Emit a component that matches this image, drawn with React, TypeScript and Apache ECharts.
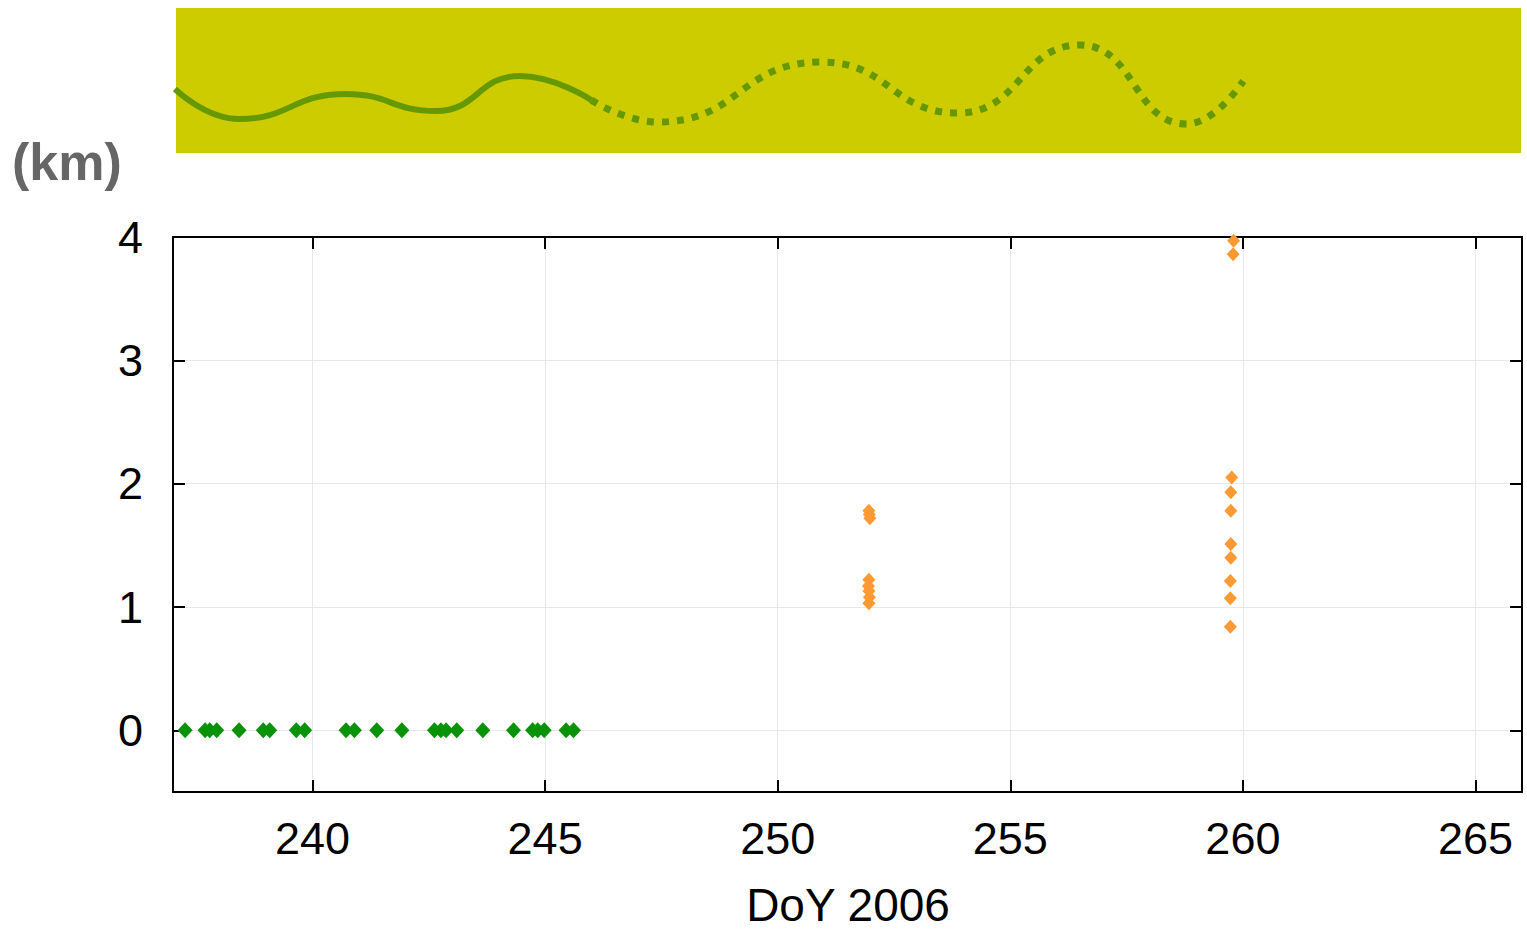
import React, { useEffect, useRef } from "react";
import * as echarts from "echarts";

// Day-of-year (2006) and height (km)
const greenDoY = [237.26, 237.69, 237.79, 237.94, 238.42, 238.94, 239.08, 239.65, 239.83, 240.72, 240.9, 241.38, 241.92, 242.62, 242.76, 242.87, 243.1, 243.66, 244.32, 244.73, 244.84, 244.98, 245.45, 245.61];
const greenKm = [0, 0, 0, 0, 0, 0, 0, 0, 0, 0, 0, 0, 0, 0, 0, 0, 0, 0, 0, 0, 0, 0, 0, 0];

const orangeDoY = [251.96, 251.97, 251.98, 251.96, 251.95, 251.96, 251.97, 251.96, 259.8, 259.79, 259.76, 259.74, 259.74, 259.74, 259.74, 259.73, 259.73, 259.73];
const orangeKm = [1.78, 1.75, 1.72, 1.22, 1.17, 1.13, 1.08, 1.03, 3.97, 3.86, 2.05, 1.93, 1.78, 1.51, 1.4, 1.21, 1.07, 0.84];

// Decorative wavy timeline in the banner (DoY, banner height units 0..145)
const bannerSolidDoY = [237.04, 238.42, 240.71, 242.64, 244.45, 245.99];
const bannerSolidH = [64, 34, 59, 42, 77, 53];
const bannerDotDoY = [245.99, 247.43, 250.93, 253.87, 256.49, 258.79, 260.01];
const bannerDotH = [53, 31, 91, 40, 108, 29, 72];

const xTicks = [240, 245, 250, 255, 260, 265];
const yTicks = [0, 1, 2, 3, 4];

const zip = (a: number[], b: number[]) => a.map((v, i) => [v, b[i]]);

export default function App() {
  const ref = useRef<HTMLDivElement>(null);
  useEffect(() => {
    if (!ref.current) return;
    const chart = echarts.init(ref.current, undefined, { renderer: "svg" });
    const font = "'Liberation Sans', Arial, sans-serif";
    const axisLine = { show: true, onZero: false, lineStyle: { color: "#000", width: 2 } };
    const tick = (vals: number[]) => ({ show: true, inside: true, length: 12, customValues: vals, lineStyle: { color: "#000", width: 2 } });
    chart.setOption({
      animation: false,
      backgroundColor: "#fff",
      grid: [
        { left: 173, top: 237, width: 1349, height: 555, containLabel: false },
        { left: 176, top: 8, width: 1345, height: 145, show: true, backgroundColor: "#cccc00", borderWidth: 0 },
      ],
      xAxis: [
        {
          type: "value", gridIndex: 0, min: 237, max: 266, position: "bottom",
          axisLine, axisTick: tick(xTicks),
          axisLabel: { customValues: xTicks, color: "#000", fontSize: 45, fontFamily: font, margin: 24 },
          splitLine: { show: true, lineStyle: { color: "#e8e8e8", width: 1 } },
        },
        {
          type: "value", gridIndex: 0, min: 237, max: 266, position: "top",
          axisLine, axisTick: tick(xTicks),
          axisLabel: { show: false }, splitLine: { show: false },
        },
        { type: "value", gridIndex: 1, min: 237.064, max: 265.98, show: false },
      ],
      yAxis: [
        {
          type: "value", gridIndex: 0, min: -0.5, max: 4, position: "left",
          axisLine, axisTick: tick(yTicks),
          axisLabel: { customValues: yTicks, color: "#000", fontSize: 45, fontFamily: font, margin: 30 },
          splitLine: { show: true, lineStyle: { color: "#e8e8e8", width: 1 } },
        },
        {
          type: "value", gridIndex: 0, min: -0.5, max: 4, position: "right",
          axisLine, axisTick: tick(yTicks),
          axisLabel: { show: false }, splitLine: { show: false },
        },
        { type: "value", gridIndex: 1, min: 0, max: 145, show: false },
      ],
      series: [
        {
          type: "scatter", xAxisIndex: 0, yAxisIndex: 0, data: zip(greenDoY, greenKm),
          symbol: "diamond", symbolSize: [15, 16], itemStyle: { color: "#079207", opacity: 1 },
        },
        {
          type: "scatter", xAxisIndex: 0, yAxisIndex: 0, data: zip(orangeDoY, orangeKm),
          symbol: "diamond", symbolSize: [13, 14], itemStyle: { color: "#ff9933", opacity: 1 },
        },
        {
          type: "line", xAxisIndex: 2, yAxisIndex: 2, data: zip(bannerSolidDoY, bannerSolidH),
          smooth: 0.5, showSymbol: false, lineStyle: { color: "#669900", width: 6 },
        },
        {
          type: "line", xAxisIndex: 2, yAxisIndex: 2, data: zip(bannerDotDoY, bannerDotH),
          smooth: 0.5, showSymbol: false, lineStyle: { color: "#669900", width: 7, type: [7, 8] },
        },
      ],
      graphic: [
        {
          type: "text", left: 12, top: 136,
          style: { text: "(km)", fill: "#666666", font: `bold 52px ${font}` },
        },
        {
          type: "text", x: 848, y: 905,
          style: { text: "DoY 2006", fill: "#000", font: `46px ${font}`, textAlign: "center", textVerticalAlign: "middle" },
        },
      ],
    });
    return () => chart.dispose();
  }, []);
  return <div ref={ref} style={{ position: "fixed", left: 0, top: 0, width: 1527, height: 931 }} />;
}
